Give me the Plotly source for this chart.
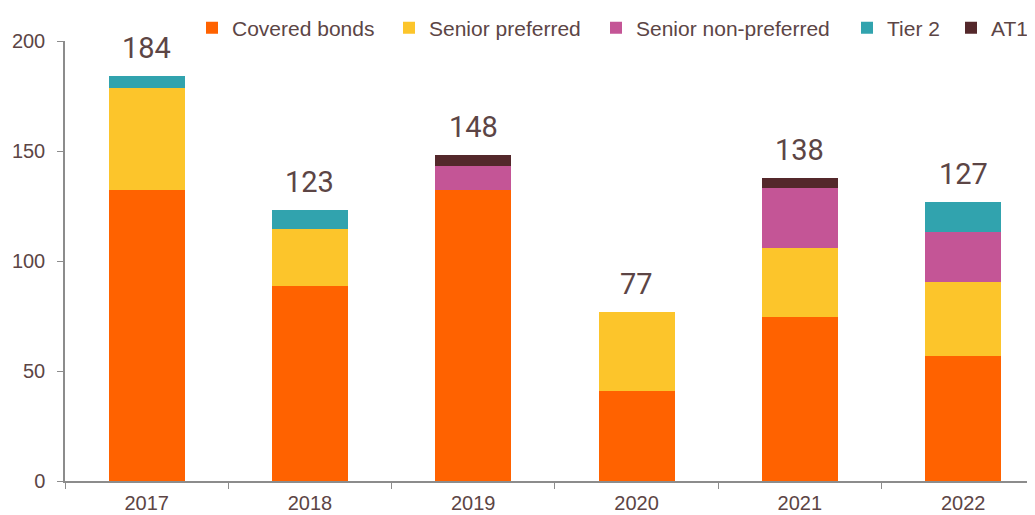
import plotly.graph_objects as go

years = ["2017", "2018", "2019", "2020", "2021", "2022"]
covered_bonds = [132.1, 88.5, 132.3, 40.9, 74.7, 56.7]
senior_preferred = [46.4, 26.2, 0, 36.1, 31.1, 33.9]
senior_non_preferred = [0, 0, 11.0, 0, 27.5, 22.7]
tier2 = [5.5, 8.3, 0, 0, 0, 13.4]
at1 = [0, 0, 4.7, 0, 4.4, 0]

series = [
    ("Covered bonds", covered_bonds, "#FF6200"),
    ("Senior preferred", senior_preferred, "#FCC52B"),
    ("Senior non-preferred", senior_non_preferred, "#C45596"),
    ("Tier 2", tier2, "#31A3AE"),
    ("AT1", at1, "#54282B"),
]

# pixel x where each legend entry's text starts in the reference
legend_text_start = [234, 431, 638, 889, 993]

totals = [sum(v) for v in zip(covered_bonds, senior_preferred, senior_non_preferred, tier2, at1)]

text_color = "#5C4545"
axis_color = "#8C8C8C"

# page body has an 8px margin; size the figure so the plot lands where the reference has it
W, H = 1027, 507
ML, MR, MT, MB = 57, 0, 33, 34
PW = W - ML - MR
PH = H - MT - MB

fig = go.Figure()
legend_layouts = {}
for i, (name, vals, color) in enumerate(series):
    lname = "legend" if i == 0 else f"legend{i+1}"
    fig.add_trace(go.Bar(
        x=years, y=vals, name=name,
        marker=dict(color=color, line=dict(width=0)),
        width=0.465, legend=lname,
    ))
    legend_layouts[lname] = dict(
        orientation="h",
        x=(legend_text_start[i] - 42 - 65) / PW, xanchor="left",
        y=1 + (MT - 20) / PH, yanchor="middle",
        font=dict(family="Liberation Sans, Arial", size=21, color=text_color),
        itemwidth=30, bgcolor="rgba(0,0,0,0)", borderwidth=0,
    )

for i, tot in enumerate(totals):
    fig.add_annotation(
        x=i, y=tot, xref="x", yref="y", text=str(int(round(tot))),
        showarrow=False, yanchor="bottom", yshift=9,
        font=dict(family="Roboto, Arial", size=29, color=text_color),
    )

fig.update_layout(
    barmode="stack",
    width=W, height=H,
    margin=dict(l=ML, r=MR, t=MT, b=MB, autoexpand=False),
    plot_bgcolor="white", paper_bgcolor="white",
    font=dict(family="Liberation Sans, Arial", size=20, color=text_color),
    showlegend=True,
    **legend_layouts,
)
fig.update_xaxes(
    type="category", range=[-0.5, 5.44],
    showline=True, linecolor=axis_color, linewidth=1.5,
    ticks="outside", tickson="boundaries", ticklen=6, tickcolor=axis_color,
    showgrid=False, tickfont=dict(size=20, color=text_color),
    ticklabelstandoff=3,
)
fig.update_yaxes(
    range=[0, 200], dtick=50,
    showline=True, linecolor=axis_color, linewidth=1.5,
    ticks="outside", ticklen=6, tickcolor=axis_color,
    showgrid=False, zeroline=False, tickfont=dict(size=20, color=text_color),
    ticklabelstandoff=8,
)

fig.write_html("out.html")
